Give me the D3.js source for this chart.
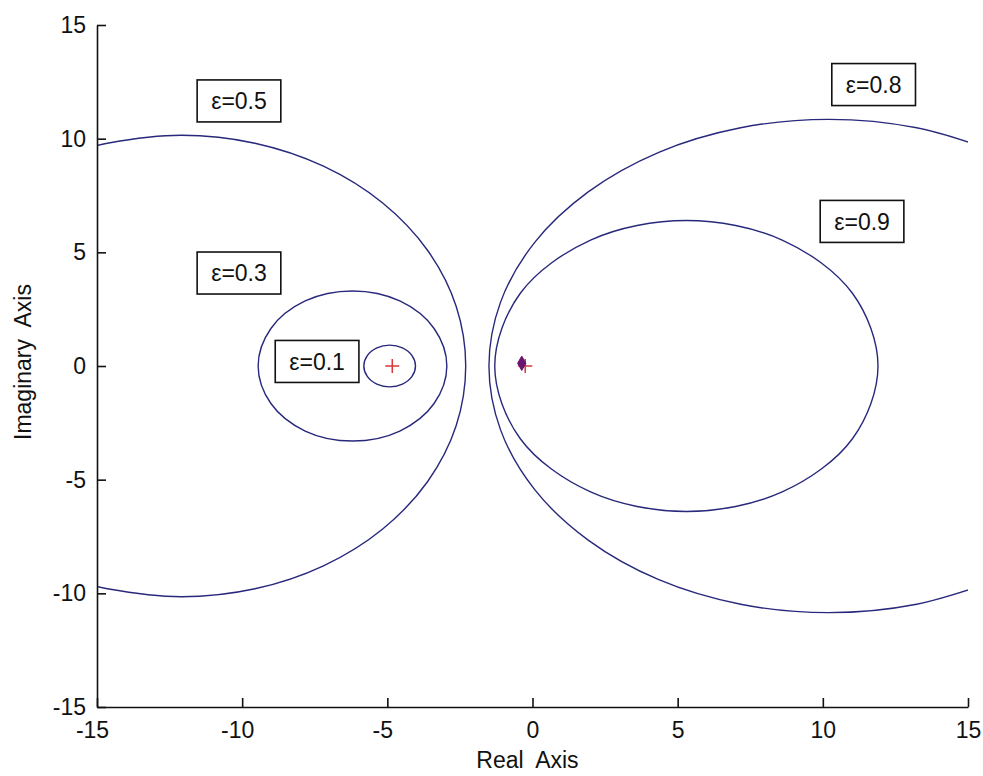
<!DOCTYPE html>
<html>
<head>
<meta charset="utf-8">
<script src="https://cdn.jsdelivr.net/npm/d3@7"></script>
<style>
  html, body { margin: 0; padding: 0; background: #fff; }
  svg { display: block; }
  text { font-family: "Liberation Sans", Arial, sans-serif; fill: #111; }
</style>
</head>
<body>
<svg id="chart" width="983" height="776"></svg>
<script>
// Constant-damping loci in the s-plane, one closed contour per epsilon value.
const ticks = [-15, -10, -5, 0, 5, 10, 15];

const locus01 = [[-4.03, 0], [-4.15, 0.46], [-4.48, 0.80], [-4.92, 0.92], [-5.36, 0.80], [-5.69, 0.46],
  [-5.81, 0], [-5.69, -0.46], [-5.36, -0.80], [-4.92, -0.92], [-4.48, -0.80], [-4.15, -0.46]];
const locus03 = [[-2.95, 0], [-3.39, 1.65], [-4.57, 2.86], [-6.2, 3.30], [-7.83, 2.86], [-9.01, 1.65],
  [-9.45, 0], [-9.01, -1.65], [-7.83, -2.86], [-6.2, -3.30], [-4.57, -2.86], [-3.39, -1.65]];
const locus05 = [[-15.45, 9.54], [-14.64, 9.80], [-12.1, 10.15], [-9.56, 9.80], [-7.2, 8.79], [-5.17, 7.18],
  [-3.61, 5.08], [-2.63, 2.63], [-2.3, 0], [-2.63, -2.63], [-3.61, -5.08], [-5.17, -7.18], [-7.2, -8.79],
  [-9.56, -9.80], [-12.1, -10.15], [-14.64, -9.80], [-15.45, -9.54]];
const locus08 = [[16.05, 9.40], [13.23, 10.48], [10.2, 10.85], [7.17, 10.48], [4.35, 9.40], [1.93, 7.67],
  [0.07, 5.43], [-1.10, 2.81], [-1.5, 0], [-1.10, -2.81], [0.07, -5.43], [1.93, -7.67], [4.35, -9.40],
  [7.17, -10.48], [10.2, -10.85], [13.23, -10.48], [16.05, -9.40]];
const locus09 = [[11.9, 0], [11.02, 3.2], [8.6, 5.54], [5.3, 6.4], [2.0, 5.54], [-0.42, 3.2],
  [-1.3, 0], [-0.42, -3.2], [2.0, -5.54], [5.3, -6.4], [8.6, -5.54], [11.02, -3.2]];

const closedLoci = [locus01, locus03, locus09];
const openLoci = [locus05, locus08];

// Poles: open-loop poles (red crosses) and the pole pair near the origin.
const crossPoles = [[-4.83, 0], [-0.25, 0]];
const purplePole = [[-0.37, 0.12]];

// Epsilon annotations, anchored in data coordinates.
const labelText = ["ε=0.5", "ε=0.3", "ε=0.1", "ε=0.8", "ε=0.9"];
const labelX = [-10.11, -10.11, -7.42, 11.75, 11.35];
const labelY = [11.66, 4.09, 0.2, 12.38, 6.36];

const svg = d3.select("#chart");
const margin = { left: 97, right: 15, top: 25, bottom: 69 };
const W = 983, H = 776;

const x = d3.scaleLinear().domain([-15, 15]).range([margin.left, W - margin.right]);
const y = d3.scaleLinear().domain([-15, 15]).range([H - margin.bottom, margin.top]);

svg.append("defs").append("clipPath").attr("id", "plotClip")
  .append("rect")
  .attr("x", x(-15)).attr("y", y(15))
  .attr("width", x(15) - x(-15)).attr("height", y(-15) - y(15));

const plot = svg.append("g").attr("clip-path", "url(#plotClip)");
const lineColor = "#28287c";

plot.selectAll("path.closed").data(closedLoci).join("path")
  .attr("class", "closed")
  .attr("d", d3.line().x(d => x(d[0])).y(d => y(d[1])).curve(d3.curveCatmullRomClosed))
  .attr("fill", "none").attr("stroke", lineColor).attr("stroke-width", 1.4);

plot.selectAll("path.open").data(openLoci).join("path")
  .attr("class", "open")
  .attr("d", d3.line().x(d => x(d[0])).y(d => y(d[1])).curve(d3.curveCatmullRom))
  .attr("fill", "none").attr("stroke", lineColor).attr("stroke-width", 1.4);

// pole markers
plot.selectAll("path.cross").data(crossPoles).join("path")
  .attr("class", "cross")
  .attr("transform", d => `translate(${x(d[0])},${y(d[1])})`)
  .attr("d", "M-7,0H7M0,-7V7")
  .attr("stroke", "#d9383a").attr("stroke-width", 1.5).attr("fill", "none");

plot.selectAll("path.purple").data(purplePole).join("path")
  .attr("class", "purple")
  .attr("transform", d => `translate(${x(d[0])},${y(d[1])})`)
  .attr("d", d3.symbol().type(d3.symbolDiamond).size(60)())
  .attr("fill", "#6a1470").attr("stroke", "#6a1470").attr("stroke-width", 1);

// axes: left and bottom only, ticks pointing inward
const fmt = d => String(d);
const xAxis = svg.append("g")
  .attr("transform", `translate(0,${y(-15)})`)
  .call(d3.axisBottom(x).tickValues(ticks).tickFormat(fmt).tickSizeInner(-9).tickSizeOuter(0).tickPadding(15));
const yAxis = svg.append("g")
  .attr("transform", `translate(${x(-15)},0)`)
  .call(d3.axisLeft(y).tickValues(ticks).tickFormat(fmt).tickSizeInner(-9).tickSizeOuter(0).tickPadding(11));

[xAxis, yAxis].forEach(g => {
  g.selectAll("path.domain").attr("stroke", "#111").attr("stroke-width", 1.6);
  g.selectAll(".tick line").attr("stroke", "#111").attr("stroke-width", 1.6);
  g.selectAll(".tick text").attr("font-size", 23).attr("font-family", "Liberation Sans, Arial, sans-serif").attr("fill", "#222");
});
// negative labels sit slightly left of their ticks
xAxis.selectAll(".tick text").attr("dx", d => d < 0 ? -5 : 0);

svg.append("text")
  .attr("x", (x(-15) + x(15)) / 2 - 5).attr("y", 768)
  .attr("text-anchor", "middle").attr("font-size", 23).attr("fill", "#222")
  .style("white-space", "pre")
  .text("Real  Axis");

svg.append("text")
  .attr("transform", `translate(31,${(y(15) + y(-15)) / 2 - 4}) rotate(-90)`)
  .attr("text-anchor", "middle").attr("font-size", 23).attr("fill", "#222")
  .style("white-space", "pre")
  .text("Imaginary  Axis");

// boxed epsilon labels
const labels = svg.selectAll("g.lbl").data(labelText).join("g")
  .attr("class", "lbl")
  .attr("transform", (d, i) => `translate(${x(labelX[i])},${y(labelY[i])})`);
labels.append("rect").attr("class", "box");
labels.append("text")
  .attr("text-anchor", "middle").attr("dy", "0.36em").attr("font-size", 23).attr("fill", "#222")
  .text(d => d);
labels.each(function () {
  const g = d3.select(this);
  const bb = g.select("text").node().getBBox();
  const w = bb.width + 28, h = 42;
  g.select("rect")
    .attr("x", -w / 2).attr("y", -h / 2).attr("width", w).attr("height", h)
    .attr("fill", "#fff").attr("stroke", "#111").attr("stroke-width", 1.6);
});
</script>
</body>
</html>
